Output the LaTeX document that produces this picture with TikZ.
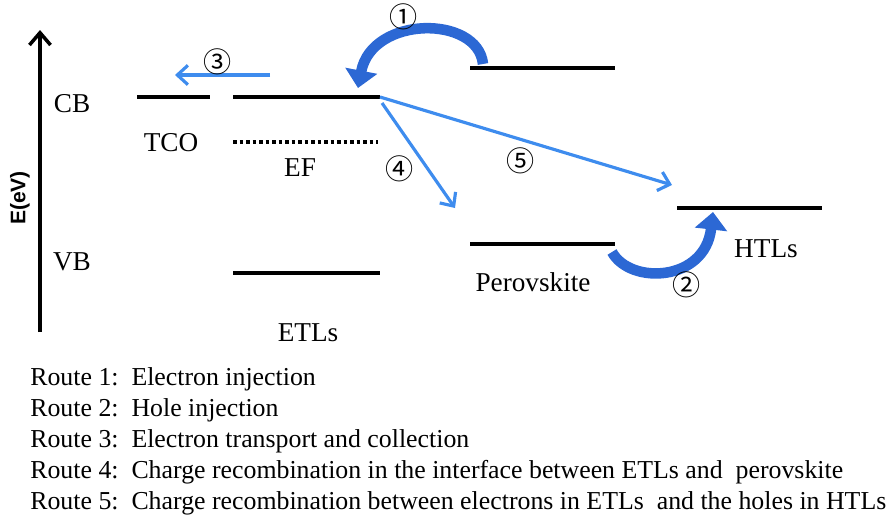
\documentclass[tikz,border=0pt]{standalone}
\usepackage{fontspec}
\setmainfont{Liberation Serif}
\newfontfamily\symf{Noto Sans CJK JP}
\newfontfamily\axf{Liberation Sans}
\usepackage{xcolor}
\usepackage{tikz}
\usetikzlibrary{arrows.meta,positioning}
\definecolor{rtblue}{RGB}{62,140,238}
\definecolor{bigblue}{RGB}{44,104,212}

\begin{document}
\begin{tikzpicture}[x=0.02cm,y=-0.02cm,font=\fontsize{15.5}{18}\selectfont,>={Straight Barb[length=6pt,width=11pt]},
 lev/.style={line width=2.2pt},
 rt/.style={->,draw=rtblue,line width=1.8pt},
 big/.style={draw=bigblue,line width=6pt,-{Triangle[length=10pt,width=18pt]}},
 num/.style={font=\symf\fontsize{16}{16}\selectfont,inner sep=0pt},
 lg/.style={anchor=west,inner sep=0pt,font=\fontsize{14.7}{17}\selectfont}]
\useasboundingbox (0,0) rectangle (890,518);
% energy axis
\coordinate (ax0) at (40,332);
\coordinate (ax1) at (40,30);
\draw[line width=2pt,-{Straight Barb[length=7pt,width=12pt]}] (ax0)--(ax1);
\node[rotate=90,font=\axf\bfseries\fontsize{12}{12}\selectfont] (ev) at (20,198) {E(eV)};
\node (cb) at (72,104) {CB};
\node (vb) at (72,262) {VB};
% levels
\coordinate (tcoL) at (137,97); \coordinate (tcoR) at (210,97);
\coordinate (etlL) at (233,97); \coordinate (etlR) at (380,97);
\coordinate (efL) at (233,142); \coordinate (efR) at (378,142);
\coordinate (etvL) at (233,273); \coordinate (etvR) at (380,273);
\coordinate (pcL) at (470,68); \coordinate (pcR) at (615,68);
\coordinate (pvL) at (470,244); \coordinate (pvR) at (615,244);
\coordinate (htL) at (677,208); \coordinate (htR) at (822,208);
\draw[lev] (tcoL)--(tcoR);
\draw[lev] (etlL)--(etlR);
\draw[lev,dash pattern=on 2pt off 1.7pt] (efL)--(efR);
\draw[lev] (etvL)--(etvR);
\draw[lev] (pcL)--(pcR);
\draw[lev] (pvL)--(pvR);
\draw[lev] (htL)--(htR);
\node (tco) at (171,143) {TCO};
\node (ef) at (300,168) {EF};
\node (etl) at (308,333) {ETLs};
\node (pero) at (533,282) {Perovskite};
\node (htl) at (766,249) {HTLs};
% routes
\coordinate (r1s) at (483,64); \coordinate (r1e) at (358,88);
\coordinate (r2s) at (612,252); \coordinate (r2e) at (713,212);
\coordinate (r3s) at (270,75); \coordinate (r3e) at (175,75);
\coordinate (r4s) at (382,103); \coordinate (r4e) at (455,208);
\coordinate (r5e) at (672,185);
\draw[big] (r1s) .. controls (478,15) and (372,15) .. (r1e);
\draw[big] (r2s) .. controls (630,285) and (705,282) .. (r2e);
\draw[rt] (r3s)--(r3e);
\draw[rt] (r4s)--(r4e);
\draw[rt] (etlR)--(r5e);
\node[num] (n1) at (404,17) {①};
\node[num] (n2) at (687,285) {②};
\node[num] (n3) at (218,62) {③};
\node[num] (n4) at (400,169) {④};
\node[num] (n5) at (521,161) {⑤};
% legend
\node[lg] (l1) at (30,379) {Route 1:\ \ Electron injection};
\node[lg] (l2) at (30,410) {Route 2:\ \ Hole injection};
\node[lg] (l3) at (30,441) {Route 3:\ \ Electron transport and collection};
\node[lg] (l4) at (30,472) {Route 4:\ \ Charge recombination in the interface between ETLs and\ \ perovskite};
\node[lg] (l5) at (30,503) {Route 5:\ \ Charge recombination between electrons in ETLs\ \ and the holes in HTLs};
\end{tikzpicture}
\end{document}
